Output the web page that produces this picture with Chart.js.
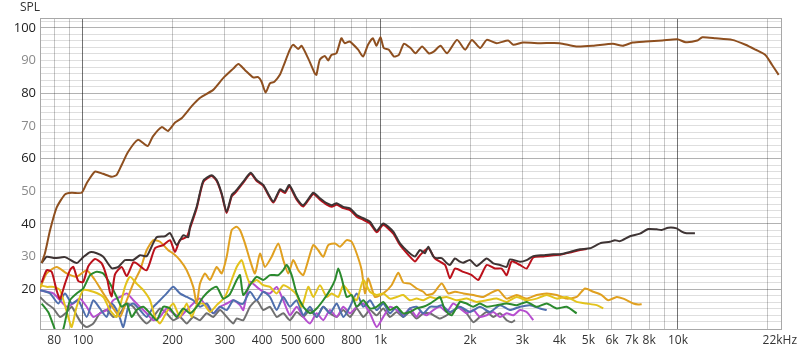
<!DOCTYPE html>
<html>
<head>
<meta charset="utf-8">
<script src="https://cdn.jsdelivr.net/npm/chart.js@4.4.1/dist/chart.umd.min.js"></script>
<style>
  html, body { margin: 0; padding: 0; background: #fff; }
</style>
</head>
<body>
<canvas id="canvas" width="800" height="352"></canvas>
<script>
// x axis ticks (Hz) and labels
const xTicks  = [80, 90, 100, 200, 300, 400, 500, 600, 700, 800, 900, 1000, 2000, 3000, 4000, 5000, 6000, 7000, 8000, 9000, 10000, 20000, 22000]
const xLabels = ['80', '', '100', '200', '300', '400', '500', '600', '', '800', '', '1k', '2k', '3k', '4k', '5k', '6k', '7k', '8k', '', '10k', '', '22kHz']
const yLabels = [20, 30, 40, 50, 60, 70, 80, 90, 100]

// measured curves, frequency (Hz) and SPL (dB)
const brownFreq = [72.6,74.5,77.5,81.6,87,91.6,99,103,109.7,116.7,124.9,129.8,134.9,141.7,153,165,171.6,184,193,204,215,232,247,274,296,320,333,350,373.5,388,398.4,411,425,440,459,471,496,509,529,543,571,601,609,625,650,667,684,711,739,758,788,841,874,908,943,969,1000,1026,1067,1110,1153,1198,1262,1312,1380,1452,1510,1591,1674,1808,1927,2029,2163,2277,2459,2687,2794,3017,3436,4000,4548,5169,6041,6522,7038,7800,8863,9950,10620,11615,12075,13380,15215,16870,18220,19670,20700,21800]
const brownSpl  = [28,31,38,45,49,49.5,49.5,52.5,56,55.3,54.4,55,58,62,65.7,63.8,66.7,69.6,68.4,71,72.4,76,78.5,81,84.6,87.5,88.9,87.1,84.8,84.9,83.5,80.2,83,83.5,85.6,88.1,93.3,94.8,93.5,94.5,90.7,86.1,85.6,90.2,91.4,90,91.7,92.2,96.8,95.3,95.8,93.3,91.2,94.8,96.8,94.5,97.1,93.8,93.3,91.2,91.7,95.1,93.8,92.2,94.3,92.2,92.7,94.5,92.2,96.3,93.3,96.3,93.8,96.3,95.3,96.1,94.8,95.5,95.3,95.3,94.3,94.5,95.1,94.5,95.5,95.8,96.1,96.5,95.6,96.1,97.1,96.8,96.3,94.8,93.3,91.7,88.7,85.6]

const darkFreq = [72.6,75.5,80.5,87,95.2,100.2,105.6,111.2,117,124.9,131.5,138.4,147.6,155.5,163.7,170,176.9,188.7,196.1,206.5,217.3,225.9,228.9,241.1,253.8,270.8,281.5,292.6,304.1,316.1,324.3,345.8,366.2,383.6,403.7,436.2,459.4,477.5,493.6,522.8,550.2,594.4,626,659.4,685.5,712.5,749.9,789.7,831.8,875.4,922,971,1022,1104,1163,1240,1306,1358,1411,1448,1505,1545,1606,1669,1712,1780,1850,1898,2000,2105,2275,2394,2522,2656,2724,2944,3100,3263,3526,3810,4013,4336,4684,5060,5468,5907,6141,6383,6898,7452,7947,8479,8814,9276,9899,10289,10695,11404]
const darkSpl  = [28,29.9,29.5,29.8,28,29.8,31.3,31,29.9,26.4,26.8,28.9,28.9,30.4,30.1,33,35.9,36.2,37.2,33.5,36.5,35.9,39.1,45.2,53.2,54.9,53.4,49.3,43.7,48.8,49.8,52.9,55.6,53.4,51.9,46.8,50.6,49.8,51.9,47.8,45.7,49.5,47.8,46.3,45.7,46.3,45.2,44.7,42.7,41.7,40.6,37.9,40.1,37.6,34,31.4,30,32,31,33,30,29.5,29.5,28,27.4,29.4,28.4,28.1,28.9,27.1,29.4,27.9,27.4,26.8,29.1,28.4,28.9,30.1,30.4,30.7,30.7,31.4,32.2,32.5,34,34.5,35,34.7,36.2,37,38.4,38.3,38.1,38.8,38.6,37.6,37.1,37.1]

const redFreq = [72.6,75.5,78.5,81.6,83.7,87,90.4,92.8,96.4,100.2,104.2,109.7,115.6,120.1,123.2,124.9,128.1,134.9,140.3,147.6,151.5,163.7,174.6,186.2,196.1,203.8,211.8,223.2,228.9,241.1,253.8,270.8,281.5,292.6,304.1,316.1,324.3,345.8,366.2,383.6,403.7,436.2,459.4,477.5,493.6,522.8,550.2,594.4,626,659.4,685.5,712.5,749.9,789.7,831.8,875.4,922,971,1022,1104,1163,1240,1306,1358,1448,1525,1648,1712,1780,1898,2026,2132,2275,2426,2555,2656,2761,2944,3100,3263,3526,3810,4013,4336,4684,4933]
const redSpl  = [22,25.8,25.3,19.5,17,21.7,25.8,26.8,22.5,22.2,27,29.2,27.9,23.8,19,17.8,24.5,26.8,24,28.2,27.9,25.8,32.5,33.5,35,31.4,35,36,38.6,44.8,52.8,54.6,53.1,49,43.3,48.4,49.4,52.6,55.3,53.1,51.6,46.5,50.2,49.4,51.5,47.4,45.3,49.1,47.4,45.9,45.2,45.8,44.8,44.2,42.2,41.2,40.1,37.4,39.6,37,33.5,30.5,28.5,30.4,32.5,29.4,27.4,23.3,26.3,25.3,24.3,22.8,27.4,26.3,26.3,24.3,28.5,27.4,26.3,29.7,30,30.4,30.5,31.2,32,32.3]

const orangeFreq = [71.7,75.5,81.6,88.2,95.2,102.9,109.7,117,126.4,133.2,140.3,147.6,155.5,163.7,172.4,181.5,193.5,201.1,211.8,223.2,234.8,241.1,247.4,257.1,267.3,281.5,292.6,304.1,316.1,328.6,337.1,350.4,364.2,378.6,393.6,409,430.8,453.4,471.3,489.8,509.2,529.3,550.2,571.9,594.4,617.8,642.2,667.5,703.2,731,769.8,800.1,831.8,864.6,887,910,958.3,1022,1090,1148,1193,1256,1323,1393,1430,1505,1606,1690,1780,1898,2051,2216,2334,2489,2656,2870,3100,3350,3621,3912,4226,4566,4868,5192,5541,5830,6222,6548,6898,7077,7355,7551]
const orangeSpl  = [20.2,24.8,26.8,24.8,23.8,25.8,22.8,18.7,14.1,11.5,16.6,21.7,25.8,31.9,35,34.5,31.9,30.9,28.9,25.8,20.7,15.6,21.7,24.8,22.8,26.8,24.8,29.9,38.1,39.1,38.1,34,28.9,24.8,30.9,26.8,29.9,34,28.9,24.8,28.9,25.8,24.3,28.9,33.5,31.9,29.9,33.5,34,33,35,34.5,30.9,25.8,18.7,23.3,17.6,18.7,21.2,25,22,21.7,20.2,19.2,18.2,18.7,21.7,18.7,19.2,18.7,18.2,17.6,18.7,19.7,17.1,18.2,17.1,18.2,18.7,18.2,17.1,17.6,20.2,19.2,18.2,16.6,17.6,17.1,16.1,15.6,15.3,15.4]

const yellowFreq = [71.7,75.5,79.5,83.7,89.2,91.6,95.2,100.2,108.3,117,123.2,129.8,138.4,143.9,151.5,159.5,168,174.6,181.5,191.1,201.1,211.8,223.2,231.9,241.1,253.8,267.3,281.5,300.2,316.1,328.6,341.6,350.4,364.2,383.6,403.7,425.2,447.8,471.3,496.3,522.8,543.4,571.9,594.4,626,659.4,685.5,721.4,749.9,789.7,831.8,875.4,922,971,1022,1076,1133,1193,1256,1323,1393,1467,1545,1669,1803,1949,2105,2275,2458,2656,2870,3100,3350,3621,3912,4226,4566,4933,5330,5610]
const yellowSpl  = [21.2,20.7,20.7,19.7,11.5,8.4,14.6,19.7,19.2,17.6,13.6,11.5,20.7,23.8,21.7,19.7,16.6,11.5,9.5,13,15.6,11.5,15.6,11.5,15.1,15.6,13,15.1,17.6,22.8,26.8,28.9,25.8,21.7,22.8,21.2,20.7,18.7,21.2,20.2,18.2,14.6,20.7,17.6,21.2,17.6,18.7,17.6,21.2,18.7,16.6,22.8,19.2,18.2,18.7,17.1,17.6,18.2,16.6,17.1,16.6,17.6,17.1,17.6,16.6,17.1,16.1,16.6,17.1,16.1,17.6,16.6,17.1,18.2,17.1,17.6,16.1,15.6,15.1,14.1]

const greenFreq = [72.6,76.4,79.5,82.6,86,90.4,95.2,100.2,105.6,111.2,117,123.2,129.8,134.9,140.3,145.8,151.5,159.5,168,176.9,186.2,196.1,206.5,217.3,228.9,241.1,253.8,267.3,281.5,296.3,312,328.6,337.1,345.8,364.2,383.6,403.7,425.2,453.4,471.3,483.8,502.9,522.8,550.2,579.4,610.3,642.2,676.5,703.2,721.4,740.6,769.8,800.1,831.8,875.4,922,971,1022,1076,1133,1193,1256,1323,1393,1467,1525,1585,1648,1735,1850,1949,2051,2160,2275,2458,2656,2870,3100,3350,3621,3912,4226,4566]
const greenSpl  = [15.6,13,9,5,8,16.6,18.7,20.2,24.3,25.3,24.8,21.7,17.6,14.6,15.6,11.5,13.6,14.6,12.6,10.5,14.6,14.1,11.5,14.1,12.6,14.6,17.6,19.7,20.7,17.1,18.5,22.8,24.3,18.2,21.2,23.8,22.8,24.3,24.3,25.8,27.4,24.3,18.7,14.6,12.6,14.1,16.6,19.7,22.8,26.3,23.3,17.6,18.2,14.6,16.6,14.1,14.6,16.1,13.6,14.6,12.6,13,14.1,14.6,15.6,16.6,17.6,13.6,12,16.1,15.6,14.6,15.6,14.6,15.1,15.6,15.1,16.1,14.6,15.6,14.1,14.6,12.6]

const blueFreq = [71.7,77.5,82.6,87,91.6,96.4,102.9,108.3,114,120.1,124.9,131.5,136.6,142,147.6,155.5,163.7,172.4,181.5,191.1,201.1,211.8,223.2,234.8,247.4,260.5,274.2,288.8,304.1,320.1,337.1,345.8,364.2,383.6,403.7,425.2,447.8,471.3,496.3,522.8,550.2,579.4,610.3,642.2,676.5,712.5,749.9,789.7,831.8,875.4,922,971,1022,1076,1133,1193,1256,1323,1393,1467,1545,1606,1712,1850,2000,2160,2334,2522,2724,2944,3180,3437,3621]
const blueSpl  = [19.7,18.7,15.6,18.7,15.6,16.6,11.5,16.6,14.1,11.5,15.6,12.6,8.4,14.6,15.6,13.6,11.5,14.6,16.6,18.7,20.7,18.7,17.6,16.6,14.6,15.6,12.6,14.6,13.6,16.6,15.6,15.6,19.2,16.6,19.2,17.6,13.6,17.6,14.6,16.6,12,14.6,11.5,14.6,12.6,15.6,11.5,14.6,18.7,14.6,16.6,13.6,15.6,12.6,14.6,11.5,14.1,14.6,12.6,14.6,14.6,15.1,13,14.6,13,14.6,13,15.1,13.6,14.6,15.1,14.1,13.6]

const purpleFreq = [71.7,75.5,79.5,83.7,88.2,92.8,97.7,102.9,108.3,114,120.1,126.4,133.2,140.3,147.6,155.5,163.7,172.4,181.5,191.1,201.1,211.8,223.2,234.8,247.4,260.5,274.2,288.8,304.1,320.1,337.1,345.8,364.2,383.6,403.7,425.2,447.8,471.3,496.3,522.8,550.2,579.4,610.3,642.2,676.5,712.5,749.9,789.7,831.8,875.4,922,971,1022,1076,1133,1193,1256,1323,1358,1430,1505,1585,1669,1756,1850,1949,2051,2160,2275,2394,2522,2656,2795,2944,3100,3263]
const purpleSpl  = [19.7,19.2,18.7,16.6,14.6,15.6,17.1,14.6,11.5,12.6,13.6,16.6,17.6,18.7,16.6,14.6,12.6,10.5,11.5,14.1,12.6,11.5,13.6,15.6,17.1,14.6,12.6,14.6,15.6,16.6,15.1,13.6,22.2,20.7,19.2,18.7,20.7,16.6,12,14.6,11.5,9.5,12.6,10.5,13.6,11.5,14.6,12.6,14.6,15.6,12.6,8.4,11.5,14.6,13.6,12,14.1,11.5,13,12,13.6,14.6,13,15.6,14.1,12.6,13.6,11.5,12,13,11.5,12.6,12,13.6,13,10.5]

const grayFreq = [71.7,75.5,79.5,83.7,88.2,91.6,95.2,99,102.9,108.3,114,120.1,126.4,133.2,140.3,147.6,155.5,163.7,172.4,181.5,191.1,201.1,211.8,223.2,234.8,247.4,260.5,274.2,288.8,304.1,320.1,328.6,345.8,364.2,383.6,403.7,425.2,447.8,471.3,496.3,522.8,550.2,579.4,610.3,642.2,676.5,712.5,749.9,789.7,831.8,875.4,922,971,1022,1076,1133,1193,1256,1323,1393,1467,1585,1712,1850,1949,2051,2160,2275,2394,2522,2656,2761,2832]
const graySpl  = [17.6,15.6,14.1,11.5,13,14.6,12,9.5,8.4,9.5,12.6,13.6,11.5,12.6,15.6,14.6,11.5,9.5,11.5,14.1,12.6,10.5,11.5,9.5,11.5,10.5,12.6,11.5,13.6,11.5,9.5,11,10.5,14.6,16.6,13.6,14.6,11.5,12.6,10.5,13,11.5,13.6,11.5,14.6,12.6,11.5,13.6,11.5,14.1,11.5,13.6,12,14.1,11.5,13,11.5,13,11,12.6,12.6,11,12.6,14.6,12.6,9.9,11.5,13,11.5,12.6,10.5,9.9,10.5]

function pts(freq, spl) {
  const out = []
  for (var i = 0; i < Math.min(freq.length, spl.length); i++) {
    out.push({x: freq[i], y: spl[i]})
  }
  return out
}

function curve(freq, spl, color) {
  return {
    data: pts(freq, spl),
    borderColor: color,
    borderWidth: 2,
    pointRadius: 0,
    tension: 0.2,
    fill: false
  }
}

// first dataset is drawn on top
const datasets = [
  curve(brownFreq, brownSpl, '#8e4f1f'),
  curve(darkFreq, darkSpl, '#3e3434'),
  curve(redFreq, redSpl, '#bb111b'),
  curve(greenFreq, greenSpl, '#2b8a2e'),
  curve(yellowFreq, yellowSpl, '#e3c31c'),
  curve(orangeFreq, orangeSpl, '#e0a020'),
  curve(blueFreq, blueSpl, '#4f6fad'),
  curve(purpleFreq, purpleSpl, '#b64fcf'),
  curve(grayFreq, graySpl, '#707070')
]

const frame = {
  id: 'frame',
  beforeDatasetsDraw(chart) {
    const a = chart.chartArea
    const ctx = chart.ctx
    ctx.save()
    ctx.strokeStyle = '#a8a8a8'
    ctx.lineWidth = 1
    ctx.strokeRect(Math.round(a.left) + 0.5, Math.round(a.top) + 0.5, Math.round(a.right - a.left), Math.round(a.bottom - a.top))
    ctx.restore()
  },
  afterDraw(chart) {
    const ctx = chart.ctx
    ctx.save()
    ctx.fillStyle = '#333'
    ctx.font = '12px "Open Sans"'
    ctx.textBaseline = 'middle'
    ctx.fillText('SPL', 20, 8)
    ctx.restore()
  }
}

const ctx = document.getElementById('canvas')
new Chart(ctx, {
  type: 'line',
  data: { datasets: datasets },
  plugins: [frame],
  options: {
    responsive: false,
    animation: false,
    layout: { padding: { top: 18, right: 19, left: 0, bottom: 0 } },
    plugins: { legend: { display: false }, tooltip: { enabled: false } },
    scales: {
      x: {
        type: 'logarithmic',
        min: 71.7,
        max: 22200,
        afterBuildTicks: (axis) => { axis.ticks = xTicks.map(v => ({ value: v })) },
        afterFit: (axis) => { axis.height = 23; axis.paddingLeft = 0; axis.paddingRight = 0 },
        ticks: {
          autoSkip: false,
          maxRotation: 0,
          padding: 4,
          color: '#333',
          font: { family: 'Open Sans', size: 12 },
          callback: (value) => { const i = xTicks.indexOf(value); return i >= 0 ? xLabels[i] : '' }
        },
        grid: {
          drawTicks: false,
          color: (c) => {
            const v = c.tick && c.tick.value
            if (v === 22000) return 'rgba(0,0,0,0)'
            return (v === 100 || v === 1000 || v === 10000) ? 'rgba(0,0,0,0.55)' : 'rgba(0,0,0,0.22)'
          }
        },
        border: { display: false }
      },
      y: {
        min: 7.8,
        max: 103,
        afterBuildTicks: (axis) => {
          const t = []
          for (var v = 10; v <= 102; v += 2) t.push({ value: v })
          axis.ticks = t
        },
        afterFit: (axis) => { axis.width = 40; axis.paddingTop = 0; axis.paddingBottom = 0 },
        ticks: {
          autoSkip: false,
          padding: 4,
          font: { family: 'Open Sans', size: 13 },
          color: (c) => (c.tick.value % 20 === 0 ? '#222' : '#8a8a8a'),
          callback: (value) => (yLabels.includes(value) ? String(value) : '')
        },
        grid: {
          drawTicks: false,
          color: (c) => (c.tick.value % 20 === 0 ? 'rgba(0,0,0,0.3)' : 'rgba(0,0,0,0.13)')
        },
        border: { display: false }
      }
    }
  }
})
</script>
</body>
</html>
